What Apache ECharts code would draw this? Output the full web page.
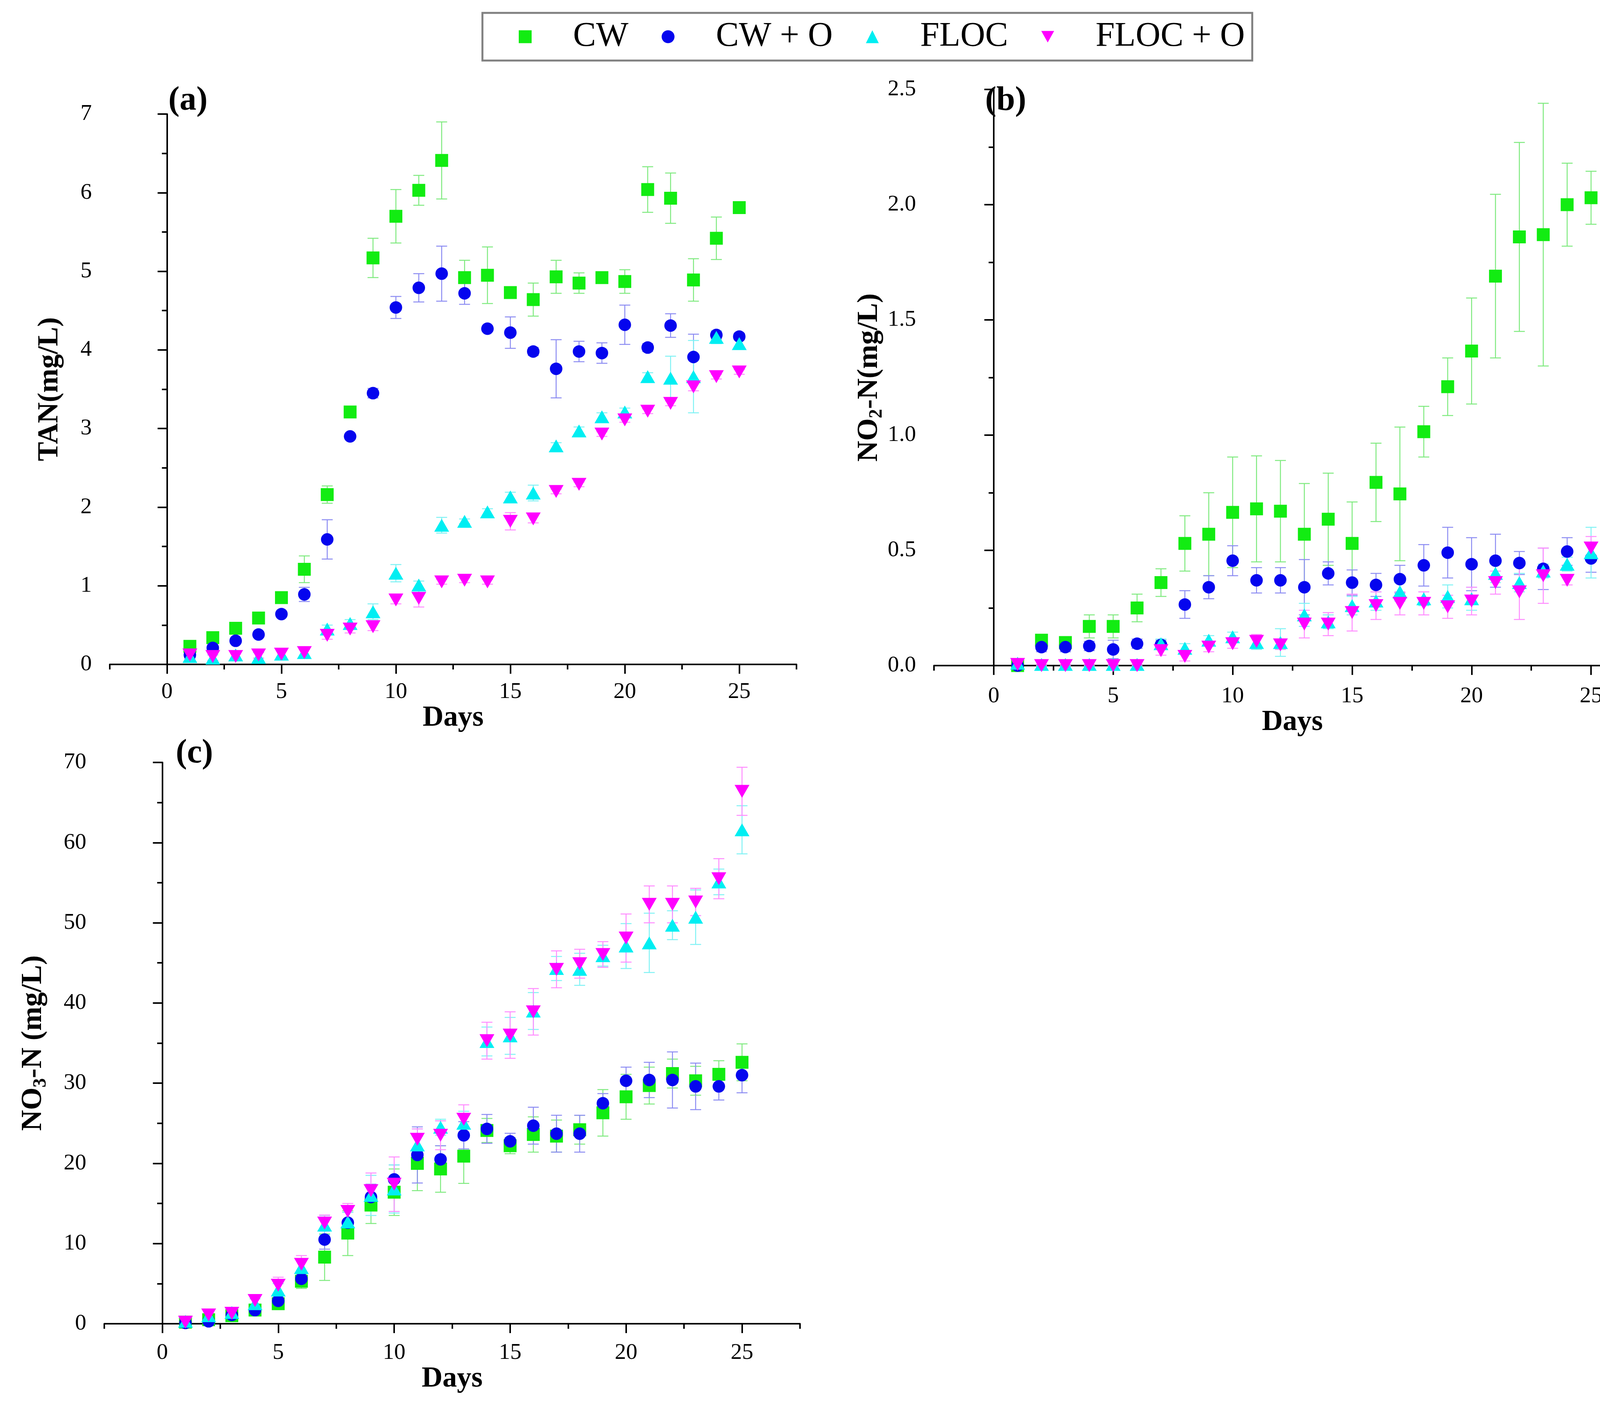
<!DOCTYPE html>
<html>
<head>
<meta charset="utf-8">
<script src="https://cdn.jsdelivr.net/npm/echarts@6/dist/echarts.min.js"></script>
<style>
html, body { margin: 0; padding: 0; background: #fff; }
#chart { width: 4275px; height: 3615px; }
</style>
</head>
<body>
<div id="chart"></div>
<script>
// sampling days
var days = [1,2,3,4,5,6,7,8,9,10,11,12,13,14,15,16,17,18,19,20,21,22,23,24,25];
var seriesNames = ['CW', 'CW + O', 'FLOC', 'FLOC + O'];

// (a) TAN mg/L
var tanCW    = [0.23,0.34,0.46,0.59,0.85,1.21,2.16,3.21,5.17,5.70,6.03,6.41,4.92,4.95,4.73,4.64,4.93,4.85,4.92,4.87,6.04,5.93,4.89,5.42,5.81];
var tanCWErr = [0.03,0.03,0.03,0.03,0.03,0.17,0.11,0.05,0.25,0.34,0.19,0.49,0.22,0.36,0.05,0.21,0.21,0.13,0.03,0.15,0.29,0.32,0.27,0.27,0.03];
var tanCWO    = [0.12,0.21,0.30,0.38,0.64,0.89,1.59,2.90,3.45,4.54,4.79,4.97,4.72,4.27,4.22,3.98,3.76,3.98,3.96,4.32,4.03,4.31,3.91,4.19,4.17];
var tanCWOErr = [0.03,0.03,0.03,0.03,0.03,0.09,0.25,0.03,0.06,0.14,0.18,0.35,0.14,0.03,0.20,0.05,0.37,0.13,0.13,0.25,0.05,0.15,0.29,0.05,0.04];
var tanFLOC    = [0.10,0.08,0.12,0.09,0.13,0.15,0.45,0.52,0.67,1.16,1.01,1.77,1.82,1.94,2.13,2.18,2.78,2.97,3.15,3.21,3.66,3.64,3.66,4.16,4.08];
var tanFLOCErr = [0.04,0.04,0.05,0.06,0.06,0.06,0.05,0.05,0.10,0.11,0.05,0.10,0.03,0.04,0.06,0.10,0.04,0.05,0.05,0.05,0.05,0.28,0.46,0.08,0.05];
var tanFLOCO    = [0.12,0.10,0.10,0.12,0.13,0.15,0.37,0.45,0.48,0.82,0.84,1.05,1.07,1.05,1.82,1.85,2.20,2.29,2.93,3.11,3.22,3.32,3.53,3.66,3.72];
var tanFLOCOErr = [0.05,0.05,0.04,0.04,0.04,0.04,0.05,0.05,0.05,0.05,0.11,0.03,0.03,0.03,0.11,0.05,0.03,0.03,0.03,0.03,0.03,0.03,0.05,0.03,0.03];

// (b) NO2-N mg/L
var no2CW    = [0,0.11,0.10,0.17,0.17,0.25,0.36,0.53,0.57,0.665,0.68,0.67,0.57,0.635,0.53,0.795,0.745,1.015,1.21,1.365,1.69,1.86,1.87,2.00,2.03];
var no2CWErr = [0.005,0.01,0.01,0.05,0.05,0.06,0.06,0.12,0.18,0.24,0.23,0.22,0.22,0.20,0.18,0.17,0.29,0.11,0.125,0.23,0.355,0.41,0.57,0.18,0.115];
var no2CWO    = [0,0.08,0.08,0.085,0.07,0.095,0.09,0.265,0.34,0.455,0.37,0.37,0.34,0.40,0.36,0.35,0.375,0.435,0.49,0.44,0.455,0.445,0.42,0.495,0.465];
var no2CWOErr = [0.005,0.02,0.02,0.02,0.04,0.02,0.02,0.06,0.05,0.065,0.055,0.055,0.12,0.05,0.055,0.05,0.06,0.09,0.11,0.115,0.115,0.05,0.09,0.06,0.06];
var no2FLOC    = [0.01,0.005,0.005,0.005,0.005,0.005,0.095,0.075,0.11,0.125,0.10,0.10,0.22,0.19,0.26,0.28,0.32,0.29,0.30,0.29,0.40,0.36,0.41,0.44,0.49];
var no2FLOCErr = [0.01,0.01,0.01,0.01,0.02,0.01,0.02,0.02,0.02,0.02,0.03,0.06,0.05,0.03,0.04,0.04,0.04,0.03,0.05,0.05,0.04,0.04,0.03,0.03,0.11];
var no2FLOCO    = [0.005,0,0,0,0,0,0.065,0.04,0.08,0.095,0.105,0.09,0.18,0.18,0.23,0.26,0.27,0.27,0.255,0.28,0.36,0.32,0.39,0.37,0.51];
var no2FLOCOErr = [0.005,0.005,0.005,0.005,0.005,0.005,0.02,0.02,0.02,0.02,0.03,0.02,0.06,0.05,0.08,0.06,0.05,0.05,0.05,0.06,0.05,0.12,0.12,0.02,0.05];

// (c) NO3-N mg/L
var no3CW    = [0.2,0.5,1.0,1.7,2.5,5.3,8.3,11.3,14.8,16.4,20.0,19.3,20.9,24.1,22.2,23.6,23.4,24.2,26.3,28.3,29.7,31.2,30.3,31.1,32.6];
var no3CWErr = [0.2,0.3,0.4,0.5,0.7,0.9,2.9,2.8,2.3,2.9,3.4,2.9,3.4,1.5,1.0,2.2,2.0,1.8,2.9,2.8,2.3,1.8,1.8,1.7,2.3];
var no3CWO    = [0.1,0.3,1.1,1.7,2.85,5.6,10.5,12.6,15.8,18.0,21.05,20.5,23.5,24.3,22.75,24.7,23.7,23.7,27.5,30.3,30.4,30.4,29.6,29.6,31.0];
var no3CWOErr = [0.2,0.3,0.4,0.5,0.8,0.9,1.2,1.3,1.6,1.8,3.5,1.7,1.7,1.8,1.0,2.3,2.3,2.3,1.2,1.7,2.2,3.5,2.9,1.7,2.2];
var no3FLOC    = [0.3,1.0,1.4,2.5,4.2,7.0,12.3,12.7,16.0,16.8,22.3,24.5,25.0,35.2,35.9,39.0,44.3,44.2,45.9,47.1,47.5,49.7,50.7,55.1,61.6];
var no3FLOCErr = [0.3,0.5,0.5,0.6,0.8,1.0,1.2,1.2,2.5,3.0,2.0,1.0,1.5,1.8,2.3,2.3,1.5,2.0,1.3,2.8,3.7,1.8,3.4,1.6,3.0];
var no3FLOCO    = [0.2,1.1,1.3,2.9,4.8,7.4,12.55,14.0,16.6,17.4,23.0,23.5,25.5,35.3,36.0,38.9,44.2,44.9,46.05,48.1,52.3,52.3,52.6,55.5,66.4];
var no3FLOCOErr = [0.2,0.4,0.5,0.6,1.0,1.1,1.0,1.0,2.2,3.4,1.3,1.8,1.8,2.3,2.9,2.9,2.3,1.8,1.6,3.0,2.3,2.3,1.7,2.5,3.0];

var FONT = '"Liberation Serif", "Times New Roman", serif';
var markColor = ['#12ec12', '#0505ee', '#00eef2', '#ff00ff'];
var barColor  = ['#7fea7f', '#8c8cf2', '#80f2f4', '#ff8cff'];
var symbols   = ['rect', 'circle', 'triangle', 'triangle'];
var symSizes  = [33, 32, [38, 33], [38, 33]];
var symRotate = [0, 0, 0, 180];

var majorX = [0, 5, 10, 15, 20, 25];
var minorX = [-2.5, 2.5, 7.5, 12.5, 17.5, 22.5, 27.5];

var chartDom = document.getElementById('chart');
var myChart = echarts.init(chartDom, null, {renderer: 'canvas'});

function errRender(params, api) {
    var x = api.value(0);
    var top = api.coord([x, api.value(2)]);
    var bot = api.coord([x, api.value(1)]);
    var w = 14;
    var st = {stroke: api.visual('color'), lineWidth: 2.5};
    return {
        type: 'group',
        children: [
            {type: 'line', shape: {x1: top[0], y1: top[1], x2: bot[0], y2: bot[1]}, style: st},
            {type: 'line', shape: {x1: top[0] - w, y1: top[1], x2: top[0] + w, y2: top[1]}, style: st},
            {type: 'line', shape: {x1: bot[0] - w, y1: bot[1], x2: bot[0] + w, y2: bot[1]}, style: st}
        ]
    };
}

var grids = [
    {left: 281, top: 292, width: 1758, height: 1409},
    {left: 2391, top: 229, width: 1835, height: 1475},
    {left: 267, top: 1952, width: 1781, height: 1437}
];

var axisLineStyle = {color: '#000', width: 4};
var tickLabelStyle = {color: '#000', fontFamily: FONT, fontSize: 58};
var nameStyle = {color: '#000', fontFamily: FONT, fontSize: 74, fontWeight: 'bold'};

var xAxes = [];
var xMargins = [42, 50, 46];
var xNameGaps = [96, 109, 95];
for (var g = 0; g < 3; g++) {
    xAxes.push({
        gridIndex: g, type: 'value', min: -2.5, max: 27.5, position: 'bottom',
        name: 'Days', nameLocation: 'middle', nameGap: xNameGaps[g], nameTextStyle: nameStyle,
        axisLine: {show: true, onZero: false, lineStyle: axisLineStyle},
        axisTick: {show: true, customValues: majorX, length: 24, lineStyle: axisLineStyle},
        axisLabel: {show: true, customValues: majorX, margin: xMargins[g], textStyle: tickLabelStyle},
        splitLine: {show: false}
    });
    // minor ticks on a twin axis
    xAxes.push({
        gridIndex: g, type: 'value', min: -2.5, max: 27.5, position: 'bottom',
        axisLine: {show: false},
        axisTick: {show: true, customValues: minorX, length: 13, lineStyle: axisLineStyle},
        axisLabel: {show: false},
        splitLine: {show: false}
    });
}

function yAxisFor(g, max, interval, name, gap, fmt) {
    return {
        gridIndex: g, type: 'value', min: 0, max: max, interval: interval,
        name: name, nameLocation: 'middle', nameRotate: 90, nameGap: gap,
        nameTextStyle: {
            color: '#000', fontFamily: FONT, fontSize: 74, fontWeight: 'bold',
            rich: {
                n: {color: '#000', fontFamily: FONT, fontSize: 74, fontWeight: 'bold', lineHeight: 86},
                s: {color: '#000', fontFamily: FONT, fontSize: 48, fontWeight: 'bold', verticalAlign: 'bottom', lineHeight: 48}
            }
        },
        axisLine: {show: true, lineStyle: axisLineStyle},
        axisTick: {show: true, length: 24, lineStyle: axisLineStyle},
        minorTick: {show: true, splitNumber: 2, length: 13, lineStyle: axisLineStyle},
        axisLabel: {margin: 46, color: '#000', fontFamily: FONT, fontSize: 58, formatter: fmt},
        splitLine: {show: false},
        minorSplitLine: {show: false}
    };
}

var yAxes = [
    yAxisFor(0, 7, 1, 'TAN(mg/L)', 116, function (v) { return String(v); }),
    yAxisFor(1, 2.5, 0.5, '{n|NO}{s|2}{n|-N(mg/L)}', 116, function (v) { return v.toFixed(1); }),
    yAxisFor(2, 70, 10, '{n|NO}{s|3}{n|-N (mg/L)}', 138, function (v) { return String(v); })
];

var panelData = [
    [[tanCW, tanCWErr], [tanCWO, tanCWOErr], [tanFLOC, tanFLOCErr], [tanFLOCO, tanFLOCOErr]],
    [[no2CW, no2CWErr], [no2CWO, no2CWOErr], [no2FLOC, no2FLOCErr], [no2FLOCO, no2FLOCOErr]],
    [[no3CW, no3CWErr], [no3CWO, no3CWOErr], [no3FLOC, no3FLOCErr], [no3FLOCO, no3FLOCOErr]]
];

var series = [];
for (var p = 0; p < 3; p++) {
    for (var k = 0; k < 4; k++) {
        var vals = panelData[p][k][0], errs = panelData[p][k][1];
        series.push({
            name: seriesNames[k] + ' err', type: 'custom',
            xAxisIndex: p * 2, yAxisIndex: p,
            renderItem: errRender,
            itemStyle: {color: barColor[k]},
            encode: {x: 0, y: [1, 2]},
            data: days.map(function (d, i) { return [d, Math.max(0, vals[i] - errs[i]), vals[i] + errs[i]]; }),
            z: 1, silent: true
        });
    }
    for (var k2 = 0; k2 < 4; k2++) {
        var v2 = panelData[p][k2][0];
        series.push({
            name: seriesNames[k2], type: 'scatter',
            xAxisIndex: p * 2, yAxisIndex: p,
            symbol: symbols[k2], symbolSize: symSizes[k2], symbolRotate: symRotate[k2],
            itemStyle: {color: markColor[k2], opacity: 1},
            data: days.map(function (d, i) { return [d, v2[i]]; }),
            z: 2 + k2
        });
    }
}

var option = {
    animation: false,
    backgroundColor: '#fff',
    title: [
        {text: '(a)', left: 426, top: 211, textStyle: {fontFamily: FONT, fontSize: 86, fontWeight: 'bold', color: '#000'}},
        {text: '(b)', left: 2517, top: 211, textStyle: {fontFamily: FONT, fontSize: 86, fontWeight: 'bold', color: '#000'}},
        {text: '(c)', left: 445, top: 1882, textStyle: {fontFamily: FONT, fontSize: 86, fontWeight: 'bold', color: '#000'}}
    ],
    legend: {
        left: 1235, top: 33,
        padding: [11, 19, 11, 93],
        borderColor: '#808080', borderWidth: 5,
        itemWidth: 33, itemHeight: 33, itemGap: 85,
        textStyle: {fontFamily: FONT, fontSize: 88, color: '#000', lineHeight: 100, padding: [0, 0, 0, 101]},
        data: [
            {name: 'CW', icon: 'rect', itemStyle: {color: markColor[0]}},
            {name: 'CW + O', icon: 'circle', itemStyle: {color: markColor[1]}},
            {name: 'FLOC', icon: 'triangle', itemStyle: {color: markColor[2]}},
            {name: 'FLOC + O', icon: 'path://M0,0 L10,0 L5,9 Z', itemStyle: {color: markColor[3]}}
        ]
    },
    grid: grids,
    xAxis: xAxes,
    yAxis: yAxes,
    series: series
};

option && myChart.setOption(option);
</script>
</body>
</html>
